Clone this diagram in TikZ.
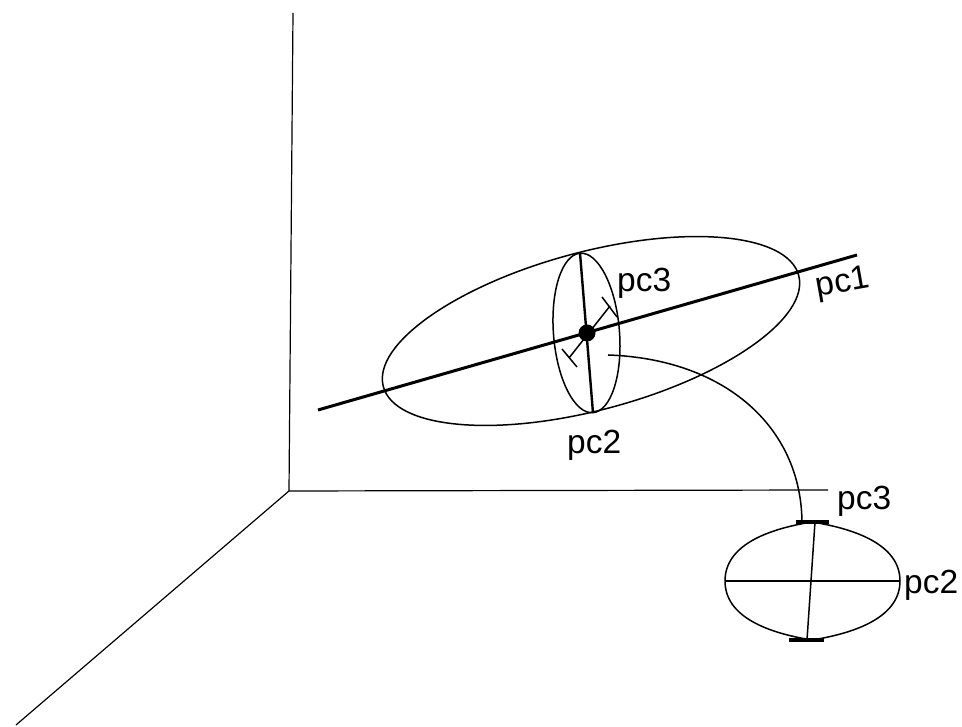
\documentclass[tikz,border=0pt]{standalone}
\usepackage{fontspec}
\setmainfont{Liberation Sans}
\begin{document}
\begin{tikzpicture}[x=1pt,y=1pt,
  axisline/.style={line width=1.2pt},
  thinline/.style={line width=1.5pt},
  thickline/.style={line width=3pt},
  midline/.style={line width=2.4pt},
  barline/.style={line width=3.2pt},
  lbl/.style={inner sep=0pt, font=\fontsize{33.5}{33.5}\selectfont}]
\useasboundingbox (0,0) rectangle (962,727);
% axes
\coordinate (ytop) at (293,714);
\coordinate (origin) at (289,236);
\coordinate (xend) at (828,237);
\coordinate (zend) at (16,2);
\draw[axisline] (ytop) -- (origin) -- (xend);
\draw[axisline] (origin) -- (zend);
% big ellipse
\coordinate (bigc) at (591,396);
\draw[thinline, rotate around={15:(bigc)}] (bigc) ellipse (215 and 79);
% small inner ellipse
\coordinate (smc) at (586.5,394);
\draw[thinline, rotate around={-85.4:(smc)}] (smc) ellipse (80 and 33);
% pc1 line
\coordinate (pcOneA) at (318,317);
\coordinate (pcOneB) at (857,472);
\draw[thickline] (pcOneA) -- (pcOneB);
% pc2 axis in cross-section
\coordinate (pcTwoT) at (580,474);
\coordinate (pcTwoB) at (593,314);
\draw[midline] (pcTwoT) -- (pcTwoB);
% pc3 axis with T bars
\coordinate (dotc) at (587,394);
\coordinate (tU) at (610,421);
\coordinate (tUa) at (602,430);
\coordinate (tUb) at (617,410);
\coordinate (tL) at (569,369);
\coordinate (tLa) at (562,378);
\coordinate (tLb) at (577,360);
\draw[thinline] (tL) -- (tU);
\draw[thinline] (tUa) -- (tUb);
\draw[thinline] (tLa) -- (tLb);
\node[circle, fill=black, minimum size=17pt, inner sep=0pt] (dot) at (dotc) {};
% connector curve
\coordinate (cstart) at (608,372);
\coordinate (cend) at (802,205);
\draw[thinline] (cstart) .. controls (725,368) and (801,300) .. (cend);
% small projected ellipse
\coordinate (sl) at (725,146);
\coordinate (st) at (812,205);
\coordinate (sr) at (900,146);
\coordinate (sb) at (812,87);
\draw[thinline] (sl) .. controls (725,182) and (768,198) .. (st)
  .. controls (856,198) and (900,182) .. (sr)
  .. controls (900,110) and (856,94) .. (sb)
  .. controls (768,94) and (725,110) .. (sl) -- cycle;
\draw[thinline] (sl) -- (sr);
\coordinate (svt) at (815,205);
\coordinate (svb) at (807,87);
\draw[thinline] (svt) -- (svb);
\coordinate (btA) at (796,205);
\coordinate (btB) at (829,205);
\coordinate (bbA) at (789,87);
\coordinate (bbB) at (824,87);
\draw[barline] (btA) -- (btB);
\draw[barline] (bbA) -- (bbB);
% labels
\node[lbl, anchor=base west] (lpcThreeS) at (837,217.5) {pc3};
\node[lbl, anchor=base west] (lpcTwoS) at (904,133) {pc2};
\node[lbl, anchor=base west] (lpcThree) at (617,435) {pc3};
\node[lbl, anchor=base west] (lpcTwo) at (567,273) {pc2};
\node[lbl, anchor=center, rotate=10] (lpcOne) at (843,443) {pc1};
\end{tikzpicture}
\end{document}
